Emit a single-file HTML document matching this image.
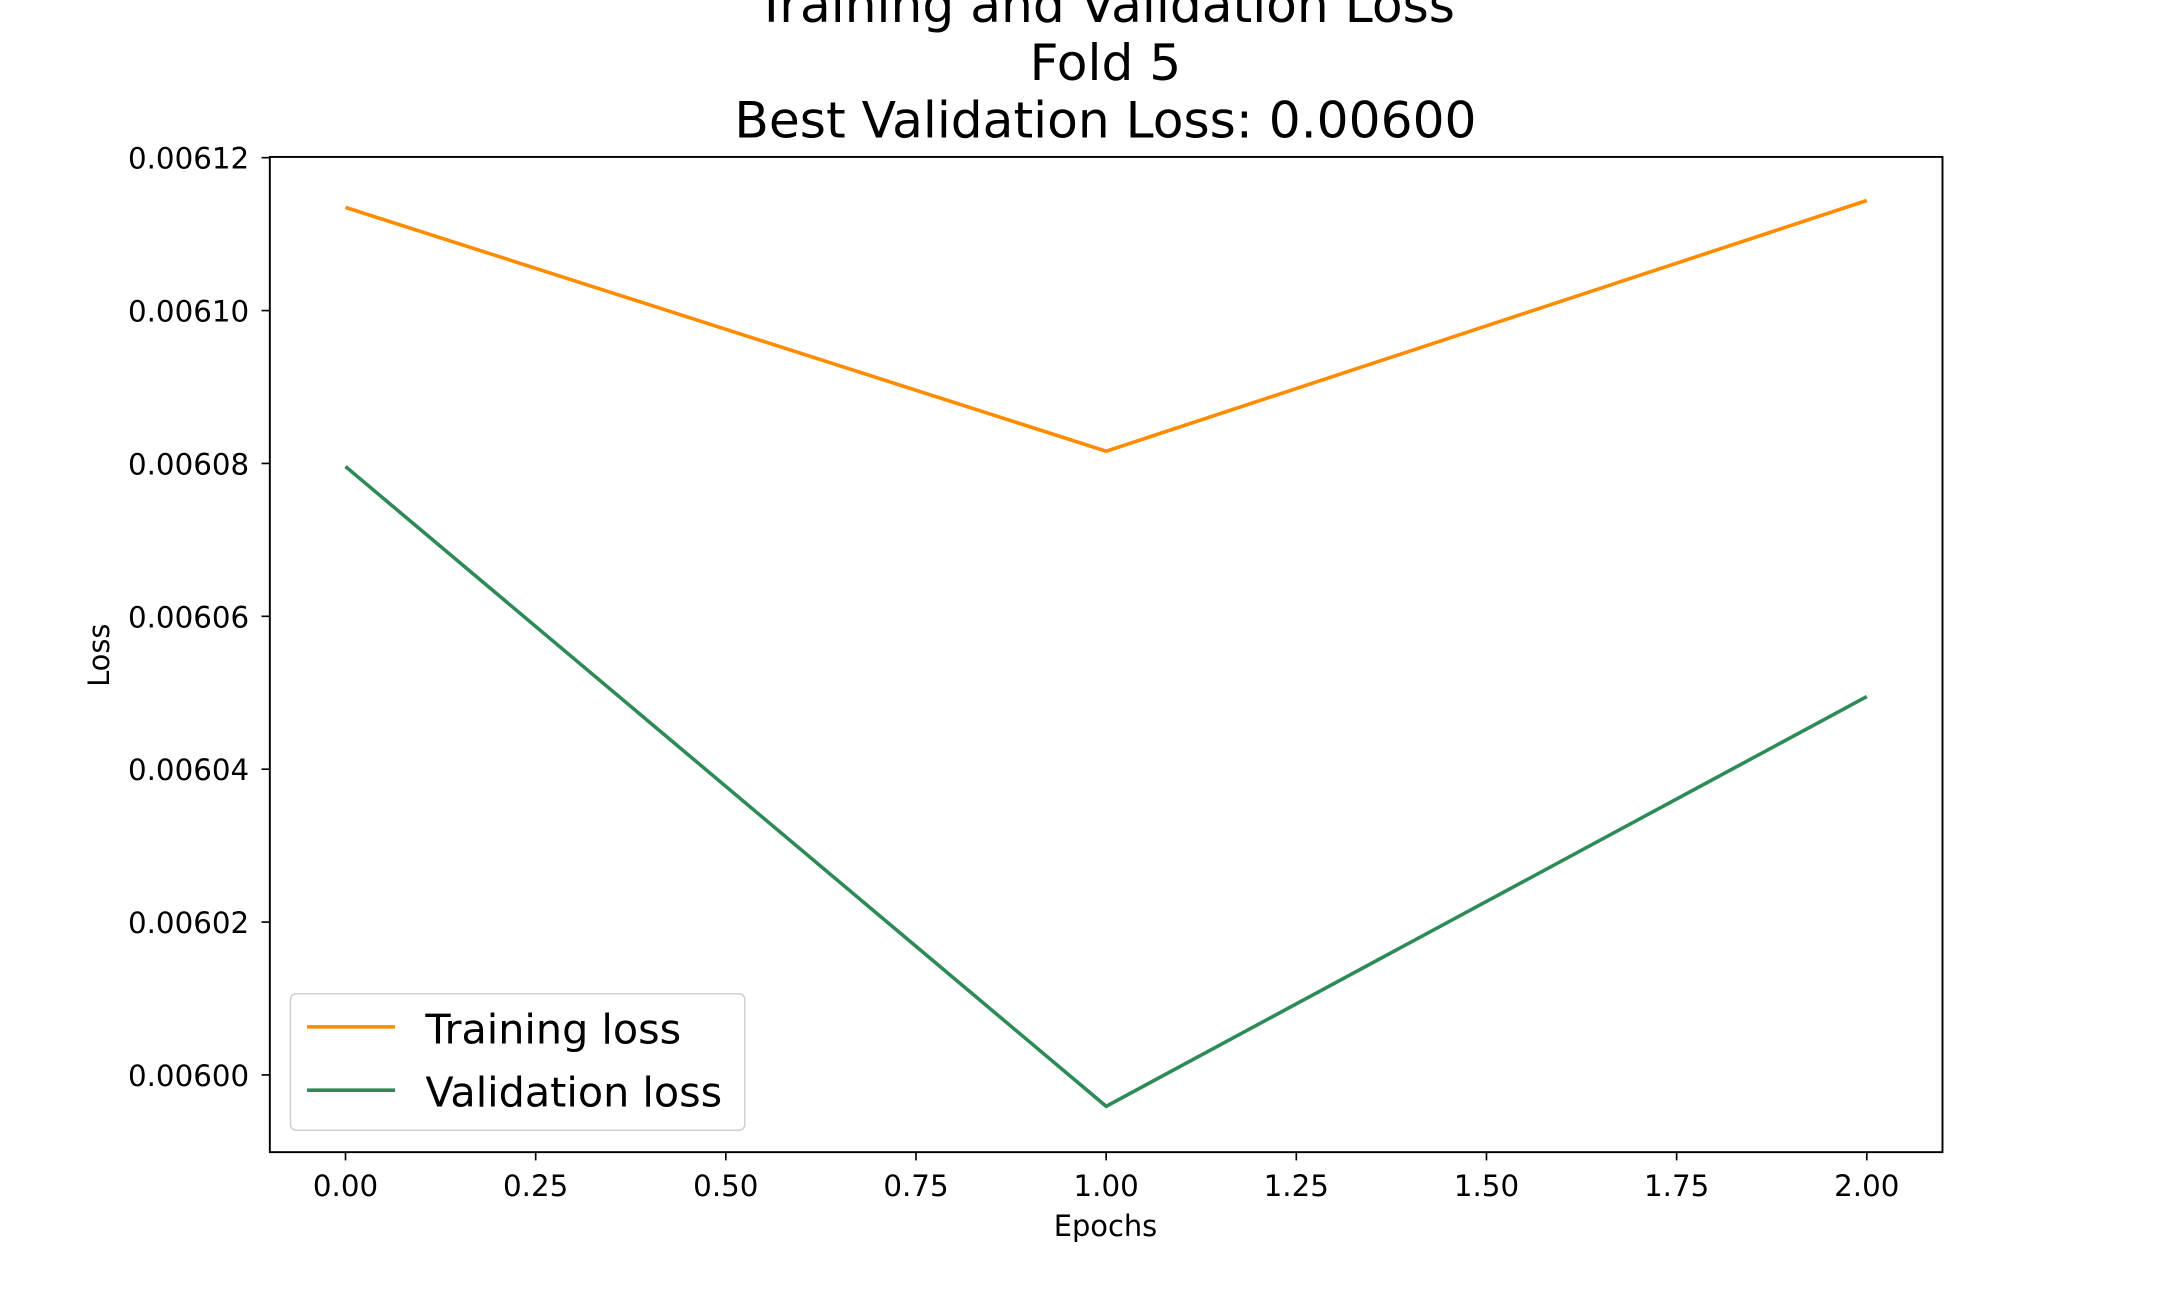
<!DOCTYPE html>
<html><head><meta charset="utf-8"><style>
html,body{margin:0;padding:0;background:#fff;}
svg{display:block;font-family:"DejaVu Sans","Liberation Sans",sans-serif;}
</style></head><body>
<svg id="chart" width="2160" height="1296" viewBox="0 0 1569 941.5" preserveAspectRatio="none" xmlns="http://www.w3.org/2000/svg">
<rect width="1569" height="941.5" fill="#fff"/>
<g font-size="36.5" text-anchor="middle" fill="#000">
<text x="803" y="16">Training and Validation Loss</text>
<text x="803" y="58">Fold 5</text>
<text x="803" y="100">Best Validation Loss: 0.00600</text>
</g>
<g id="xticks"></g>
<g id="yticks"></g>
<g id="series"></g>
<rect x="196" y="114" width="1215" height="723" fill="none" stroke="#000" stroke-width="1.4"/>
<text x="803" y="898" font-size="21" text-anchor="middle">Epochs</text>
<text x="0" y="0" font-size="21" text-anchor="middle" transform="translate(79,476) rotate(-90)">Loss</text>
<g>
<rect x="211" y="722" width="330" height="99" rx="4" fill="#fff" fill-opacity="0.8" stroke="#ccc"/>
<line x1="223" y1="746" x2="287" y2="746" stroke="#ff8c00" stroke-width="2.6"/>
<text x="309" y="758" font-size="30">Training loss</text>
<line x1="223" y1="792" x2="287" y2="792" stroke="#2e8b57" stroke-width="2.6"/>
<text x="309" y="804" font-size="30">Validation loss</text>
</g>
</svg>
<script>
const epochs = [0, 1, 2];
const trainingLoss = [0.0061135, 0.0060816, 0.0061144];
const validationLoss = [0.0060796, 0.0059959, 0.0060495];
const xTickValues = [0, 0.25, 0.5, 0.75, 1, 1.25, 1.5, 1.75, 2];
const yTickValues = [0.006, 0.00602, 0.00604, 0.00606, 0.00608, 0.0061, 0.00612];

const X0=196,X1=1411,Y0=837,Y1=114;
const xMin=-0.0995,xMax=2.0995,yMin=0.0059899,yMax=0.0061201;
function xs(v){return X0+(v-xMin)/(xMax-xMin)*(X1-X0);}
function ys(v){return Y0-(v-yMin)/(yMax-yMin)*(Y0-Y1);}
const NS='http://www.w3.org/2000/svg';
function mk(tag,attrs,parent){const e=document.createElementNS(NS,tag);for(const k in attrs)e.setAttribute(k,attrs[k]);parent.appendChild(e);return e;}
const gx=document.getElementById('xticks'),gy=document.getElementById('yticks'),gs=document.getElementById('series');
xTickValues.forEach(v=>{
  const x=xs(v);
  const t=mk('line',{x1:x,x2:x,y1:837,y2:843,stroke:'#000','stroke-width':1.2},gx);
  
  
  const l=mk('text',{x:x,y:869,'font-size':21.3,'text-anchor':'middle'},gx);
  l.textContent=v.toFixed(2);
  
  
});
yTickValues.forEach(v=>{
  const y=ys(v);
  const t=mk('line',{x1:190,x2:196,y1:y,y2:y,stroke:'#000','stroke-width':1.2},gy);
  
  
  const l=mk('text',{x:181,y:y+8,'font-size':21.3,'text-anchor':'end'},gy);
  l.textContent=v.toFixed(5);
  
  
});
function line(vals,color,name){
  const pts=vals.map((v,i)=>xs(epochs[i])+','+ys(v)).join(' ');
  const p=mk('polyline',{points:pts,fill:'none',stroke:color,'stroke-width':2.6},gs);
  
  
}
line(trainingLoss,'#ff8c00','training-loss-line');
line(validationLoss,'#2e8b57','validation-loss-line');
</script>
</body></html>
